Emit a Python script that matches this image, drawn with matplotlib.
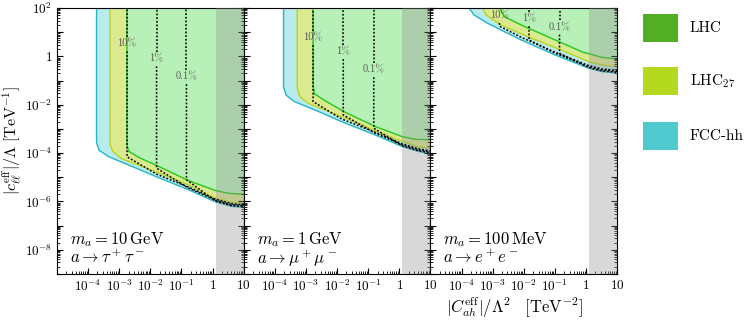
import numpy as np
import matplotlib
matplotlib.use('Agg')
from matplotlib import pyplot as plt
from matplotlib.patches import Rectangle
from matplotlib.ticker import LogLocator, FixedLocator, FuncFormatter, NullFormatter

plt.rcParams['mathtext.fontset'] = 'cm'

# ---- data (log10 values) ----
panel_mass = [r'$m_a = 10\,\mathrm{GeV}$', r'$m_a = 1\,\mathrm{GeV}$', r'$m_a = 100\,\mathrm{MeV}$']
panel_decay = [r'$a \to \tau^+\tau^-$', r'$a \to \mu^+\mu^-$', r'$a \to e^+e^-$']

# lower boundaries of the reach regions, per panel: (log10 x, log10 y)
fcc_x = [[-3.73, -3.73, -3.65, -3.35, -2.70, -1.80, -0.80, 0.10, 0.60, 1.10],
         [-3.72, -3.72, -3.64, -3.37, -2.72, -1.85, -0.77, 0.10, 0.64, 1.10],
         [-3.78, -3.76, -3.59, -3.16, -2.08, -0.99, 0.09, 0.52, 1.10]]
fcc_y = [[3.0, -3.55, -3.88, -4.14, -4.49, -4.98, -5.50, -6.02, -6.20, -6.26],
         [3.0, -1.25, -1.60, -1.87, -2.21, -2.70, -3.25, -3.73, -3.94, -4.03],
         [3.0, 2.00, 1.71, 1.37, 0.68, 0.06, -0.49, -0.63, -0.70]]

lhc27_x = [[-3.30, -3.30, -3.21, -2.94, -1.90, -0.85, 0.05, 0.60, 1.10],
           [-3.28, -3.28, -3.20, -2.93, -1.85, -0.77, 0.10, 0.60, 1.10],
           [-3.34, -3.32, -3.21, -2.73, -1.75, -0.78, 0.09, 0.60, 1.10]]
lhc27_y = [[3.0, -3.62, -3.92, -4.22, -4.73, -5.27, -5.85, -6.03, -6.08],
           [3.0, -1.32, -1.66, -1.94, -2.49, -3.07, -3.52, -3.74, -3.80],
           [3.0, 2.00, 1.71, 1.30, 0.75, 0.26, -0.22, -0.38, -0.42]]

lhc_x = [[-2.75, -2.75, -2.70, -2.38, -1.60, -0.75, 0.10, 0.55, 1.10],
         [-2.77, -2.77, -2.72, -2.39, -1.74, -0.77, 0.10, 0.53, 1.10],
         [-2.80, -2.78, -2.62, -2.08, -0.99, -0.13, 0.52, 1.10]]
lhc_y = [[3.0, -3.65, -3.92, -4.17, -4.63, -5.15, -5.55, -5.67, -5.70],
         [3.0, -1.25, -1.55, -1.83, -2.31, -2.90, -3.32, -3.43, -3.45],
         [3.0, 2.00, 1.64, 1.30, 0.68, 0.19, -0.04, -0.12]]

# branching-ratio contours: vertical position, label height, bend height
br_labels = ['10%', '1%', '0.1%']
br_x = [[-2.75, -1.80, -0.84], [-2.77, -1.80, -0.82], [-2.78, -1.83, -0.85]]
br_label_y = [[0.51, -0.11, -0.85], [0.77, 0.19, -0.56], [1.68, 1.55, 1.20]]
br_bend_y = [[-4.15, -4.62, -5.10], [-1.87, -2.42, -2.97], [1.25, 0.68, 0.13]]

excluded_from = 1.26  # grey band start

fill_colors = ['#b9eaed', '#dbe98f', '#b8f1b8']
edge_colors = ['#22b6c6', '#bcd51a', '#22c822']
legend_colors = ['#52ae22', '#b5d91f', '#4ec9cd']
legend_names = ['LHC', r'LHC$_{27}$', 'FCC-hh']

fig, axes = plt.subplots(1, 3, figsize=(7.48, 3.23), dpi=100, sharey=True)
plt.subplots_adjust(left=0.0762, right=0.825, bottom=0.1517, top=0.975, wspace=0)


def draw_region(ax, lx, ly, face, edge, z):
    lx = np.array(lx)
    ly = np.array(ly)
    px = np.concatenate([lx, [lx[-1], lx[0]]])
    py = np.concatenate([ly, [3.0, 3.0]])
    ax.fill(10**px, 10**py, color=face, lw=0, zorder=z)
    ax.plot(10**lx, 10**ly, color=edge, lw=1.0, zorder=z + 0.05)


for i, ax in enumerate(axes):
    draw_region(ax, fcc_x[i], fcc_y[i], fill_colors[0], edge_colors[0], 1.0)
    draw_region(ax, lhc27_x[i], lhc27_y[i], fill_colors[1], edge_colors[1], 1.1)
    draw_region(ax, lhc_x[i], lhc_y[i], fill_colors[2], edge_colors[2], 1.2)

    ax.axvspan(excluded_from, 10, color='#909090', alpha=0.35, lw=0, zorder=3)

    # dotted branching ratio contours, bending onto the lower edge
    band_x = np.array(fcc_x[i][2:])
    band_y = np.array(fcc_y[i][2:])
    for k in range(3):
        xv = br_x[i][k]
        yl = br_label_y[i][k]
        off = 0.11 - 0.04 * k
        sel = band_x > xv + 0.3
        path_x = np.concatenate([[xv, xv], band_x[sel]])
        path_y = np.concatenate([[yl - 0.3, br_bend_y[i][k]], band_y[sel] + off])
        ax.plot(10**path_x, 10**path_y, color='k', ls=(0, (1.2, 1.2)), lw=1.1, zorder=4)
        if yl + 0.3 < 2:
            ax.plot([10**xv, 10**xv], [10**(yl + 0.3), 1e3], color='k',
                    ls=(0, (1.2, 1.2)), lw=1.1, zorder=4)
        ax.text(10**xv, 10**yl, br_labels[k], ha='center', va='center',
                fontsize=7.5, family='cmr10', color='#555555', zorder=5)

    ax.text(0.07, 0.13, panel_mass[i], transform=ax.transAxes, fontsize=12,
            va='center', ha='left')
    ax.text(0.07, 0.06, panel_decay[i], transform=ax.transAxes, fontsize=12,
            va='center', ha='left')

    ax.set_xscale('log')
    ax.set_yscale('log')
    ax.set_xlim(1e-5, 10)
    ax.set_ylim(1e-9, 1e2)

    ax.xaxis.set_major_locator(FixedLocator([1e-5, 1e-4, 1e-3, 1e-2, 1e-1, 1, 10]))
    ax.xaxis.set_major_formatter(FuncFormatter(
        lambda v, p: '' if v < 5e-5 else ('$1$' if abs(v - 1) < 1e-9 else
                                          ('$10$' if abs(v - 10) < 1e-9 else
                                           r'$10^{%d}$' % round(np.log10(v))))))
    ax.xaxis.set_minor_locator(LogLocator(base=10, subs=np.arange(2, 10), numticks=30))
    ax.xaxis.set_minor_formatter(NullFormatter())
    ax.yaxis.set_major_locator(LogLocator(base=10, numticks=30))
    ax.yaxis.set_minor_locator(LogLocator(base=10, subs=np.arange(2, 10), numticks=30))
    ax.yaxis.set_minor_formatter(NullFormatter())
    ax.tick_params(axis='x', which='both', direction='in', top=False, labelsize=9.5)
    ax.tick_params(axis='y', which='both', direction='in', left=True, right=True,
                   labelsize=9.5)
    ax.tick_params(which='major', length=4, width=0.8)
    ax.tick_params(which='minor', length=2, width=0.6)


def ylab(v, p):
    e = int(round(np.log10(v)))
    if e % 2:
        return ''
    if e == 0:
        return '$1$'
    return r'$10^{%d}$' % e


axes[0].yaxis.set_major_formatter(FuncFormatter(ylab))
axes[0].set_ylabel(r'$|c_{\ell\ell}^{\mathrm{eff}}|/\Lambda\ [\mathrm{TeV}^{-1}]$', fontsize=11.5)
axes[0].yaxis.set_label_coords(-0.175, 0.5)
axes[2].set_xlabel(r'$|C_{ah}^{\mathrm{eff}}|/\Lambda^2\quad[\mathrm{TeV}^{-2}]$', fontsize=12)
axes[2].xaxis.set_label_coords(0.45, -0.08)

# legend drawn as coloured boxes with labels on the right
W, H = 748.0, 323.0
box_top = [14, 67, 122]
for c, name, top in zip(legend_colors, legend_names, box_top):
    fig.add_artist(Rectangle((643 / W, 1 - (top + 28) / H), 35 / W, 28 / H,
                             transform=fig.transFigure, facecolor=c, edgecolor='none'))
    fig.text(690 / W, 1 - (top + 14) / H, name, family='cmr10', fontsize=11,
             va='center', ha='left')

plt.savefig('out.png', dpi=100)
